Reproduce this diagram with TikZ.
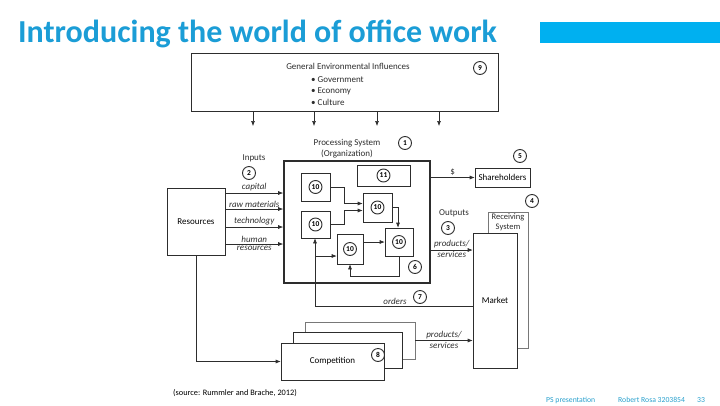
\documentclass[tikz,border=0pt]{standalone}
\usepackage{fontspec}
\setmainfont{Carlito}
\usetikzlibrary{arrows.meta, calc}
\usepackage{xcolor}
\definecolor{offtitle}{RGB}{27, 157, 214}
\definecolor{offbar}{RGB}{0, 176, 240}
\definecolor{offline}{RGB}{45, 45, 45}
\definecolor{offgray}{RGB}{120, 120, 120}
\definecolor{offfoot}{RGB}{40, 160, 205}
\tikzset{
  sz/.style 2 args={minimum width=#1pt, minimum height=#2pt},
  gbox/.style={
    rectangle, draw=offline, fill=white, line width=0.6pt,
    inner sep=0pt, align=center,
    font=\fontsize{9}{11}\selectfont
  },
  ubox/.style={
    rectangle, draw=offline, fill=white, line width=0.6pt, inner sep=0pt
  },
  dtext/.style={
    inner sep=0pt, align=center, text=offline,
    font=\fontsize{9}{11}\selectfont
  },
  lbl/.style={
    inner sep=1.5pt, text=offline,
    font=\fontsize{9}{10}\selectfont\itshape
  },
  cnum/.style={
    circle, draw=offline, line width=0.9pt, inner sep=0pt,
    minimum size=13pt, font=\fontsize{7.5}{8}\selectfont\bfseries
  },
  arr/.style={-{Latex[length=5pt, width=4pt]}, line width=0.6pt, color=offline},
  ln/.style={line width=0.6pt, color=offline},
  foot/.style={inner sep=0pt, anchor=west, text=offfoot,
    font=\fontsize{7.7}{8}\selectfont},
}

\begin{document}
\begin{tikzpicture}[x=1pt, y=-1pt]
  \useasboundingbox (0,0) rectangle (720,405);
  % header
  \node[anchor=west, inner sep=0pt, text=offtitle, font=\fontsize{32}{34}\selectfont\bfseries] (title) at (18,34) {Introducing the world of office work};
  \fill[offbar] (540,22) rectangle (720,43);

  % general environment
  \node[gbox, sz={307}{58}] (env) at (344.5,82) {};
  \node[dtext] (envt) at (348,66) {General Environmental Influences};
  \node[dtext, align=left, anchor=west, font=\fontsize{9}{11.5}\selectfont] (envl) at (311,91) {\textbullet\ Government\\\textbullet\ Economy\\\textbullet\ Culture};
  \node[cnum] (n9) at (480,68) {9};
  \foreach \x [count=\i] in {253,314,377,439}{
    \coordinate (e\i) at (\x,126);
    \draw[arr] (e\i |- env.south) -- (e\i);
  }

  % processing system
  \node[gbox, line width=1.6pt, sz={146}{122}] (proc) at (357,222) {};
  \node[dtext] (proct) at (347,148.5) {Processing System\\(Organization)};
  \node[cnum] (n1) at (405,143) {1};
  \node[ubox, sz={29}{28}] (ua) at (315.5,187) {};
  \node[ubox, sz={29}{27}] (ub) at (315.5,224.5) {};
  \node[ubox, sz={29}{29}] (uc) at (377.5,207.5) {};
  \node[ubox, sz={28}{28}] (ud) at (399,242) {};
  \node[ubox, sz={26}{30}] (ue) at (350,249) {};
  \node[ubox, sz={53}{21}] (mgmt) at (383.5,175.5) {};
  \node[cnum] (ca) at (ua) {10};
  \node[cnum] (cb) at (ub) {10};
  \node[cnum] (cc) at (uc) {10};
  \node[cnum] (cd) at (ud) {10};
  \node[cnum] (ce) at (ue) {10};
  \node[cnum] (cm) at (mgmt) {11};
  \draw[arr] (ua.east) -- ++(14,0) |- ([yshift=4pt]uc.west);
  \draw[arr] (ub.east) -- ++(14,0) |- ([yshift=-3pt]uc.west);
  \draw[arr] (uc.east) -| ([xshift=-1pt]ud.north);
  \draw[arr] (ue.east |- ud.west) -- (ud.west);
  \draw[arr] (ud.south) -- ++(0,20) -| (ue.south);
  \node[cnum] (n6) at (415,267) {6};

  % inputs
  \node[gbox, sz={58}{67}] (res) at (196,221.5) {Resources};
  \node[dtext] (inp) at (254,158) {Inputs};
  \node[cnum] (n2) at (249,173) {2};
  \draw[arr] (res.east |- 0,193) -- (proc.west |- 0,193) node[lbl, midway, above] {capital};
  \draw[arr] (res.east |- 0,209) -- (proc.west |- 0,209) node[lbl, midway, above] {raw materials};
  \draw[arr] (res.east |- 0,227) -- (proc.west |- 0,227) node[lbl, midway, above] {technology};
  \draw[arr] (res.east |- 0,244) -- (proc.west |- 0,244) node[lbl, midway, above] {human} node[lbl, midway, below] {resources};

  % outputs
  \node[gbox, sz={55}{19}] (share) at (502.5,177.5) {Shareholders};
  \node[cnum] (n5) at (520,156) {5};
  \draw[arr] (proc.east |- share) -- (share.west) node[lbl, midway, above, font=\fontsize{9}{10}\selectfont] {\$};
  \node[gbox, draw=offgray, sz={40}{136}] (recv) at (508,280) {};
  \node[dtext, font=\fontsize{8.5}{10.5}\selectfont] (recvt) at (508,222.5) {Receiving\\System};
  \node[cnum] (n4) at (532,201) {4};
  \node[gbox, sz={44}{135}] (market) at (495,300.5) {Market};
  \node[dtext] (outt) at (454,213) {Outputs};
  \node[cnum] (n3) at (448,228) {3};
  \draw[arr] (proc.east |- 0,250) -- (market.west |- 0,250) node[lbl, midway, above] {products/} node[lbl, midway, below] {services};

  % orders
  \coordinate (fb) at (315,256);
  \draw[ln] (market.west |- 0,306) -| (fb);
  \draw[arr] (fb) -- (ue.west |- fb);
  \draw[arr] (fb) -- (fb |- ub.south);
  \node[lbl] (ord) at (395,301) {orders};
  \node[cnum] (n7) at (420,297) {7};

  % competition
  \node[gbox, draw=offgray, sz={110}{37}] (comp3) at (360,340.5) {};
  \node[gbox, sz={109}{36}] (comp2) at (347.5,350) {};
  \node[gbox, sz={103}{37}] (comp1) at (332.5,361.5) {Competition};
  \node[cnum] (n8) at (378,355) {8};
  \draw[arr] (res.south) |- (comp1.west);
  \draw[arr] (comp3.east) -- (market.west |- comp3.east) node[lbl, midway, above] {products/} node[lbl, midway, below] {services};

  % footer
  \node[anchor=west, inner sep=0pt, font=\fontsize{8.3}{9}\selectfont] (src) at (173,393) {(source: Rummler and Brache, 2012)};
  \node[foot] (ftitle) at (546,400) {PS presentation};
  \node[foot] (fname) at (618,400) {Robert Rosa 3203854};
  \node[foot] (fpage) at (697,400) {33};
\end{tikzpicture}
\end{document}
